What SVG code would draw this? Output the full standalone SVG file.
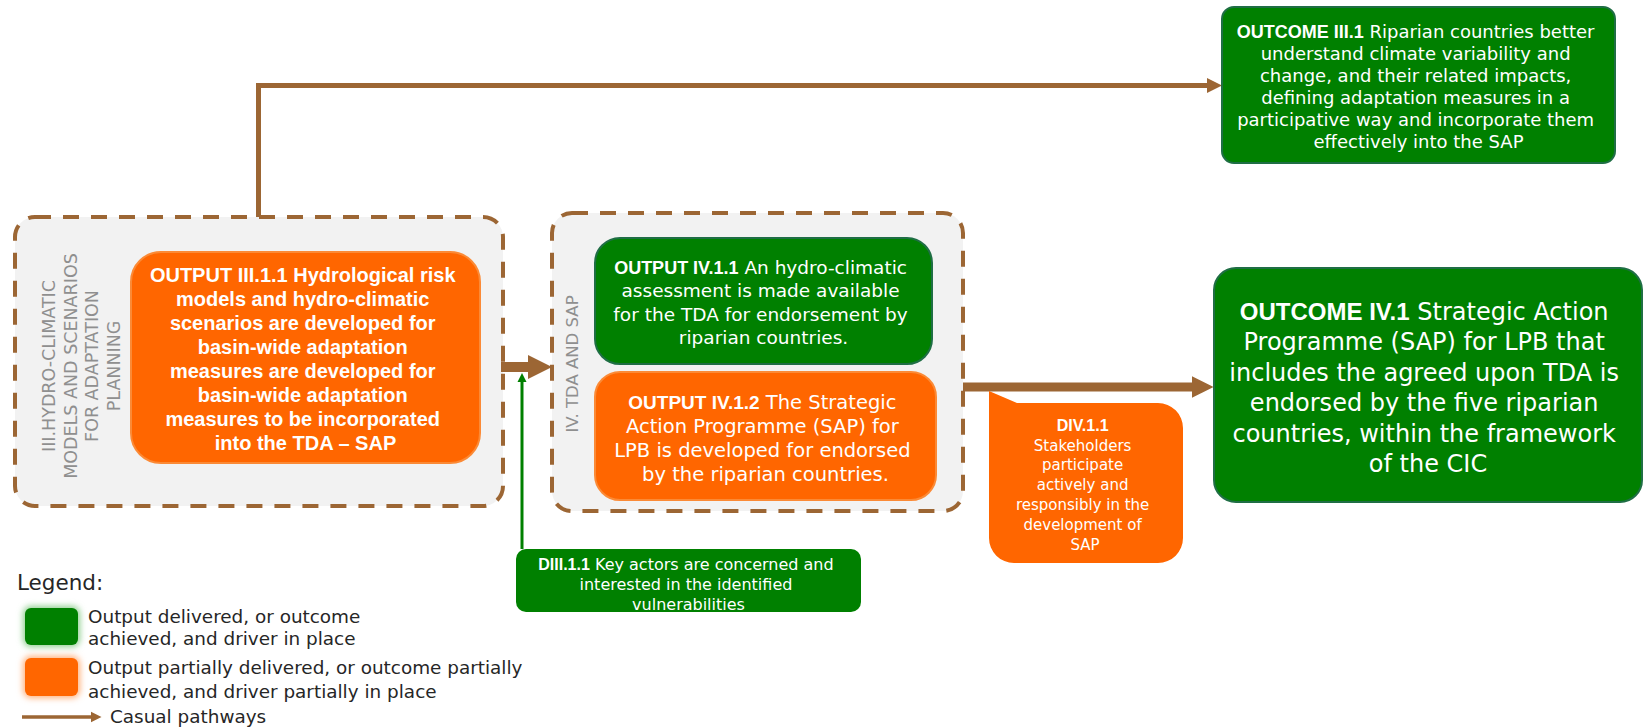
<svg xmlns="http://www.w3.org/2000/svg" width="1644" height="728" viewBox="0 0 1644 728">
  <defs>
    <style>
      .grp{fill:#f2f2f2;stroke:#9c6634;stroke-width:4;stroke-dasharray:16 12}
      .grn{fill:#008000;stroke:#1f6e45;stroke-width:2}
      .org{fill:#ff6600;stroke:#fb8a36;stroke-width:2}
      .flow{fill:none;stroke:#9c6634;stroke-linejoin:miter}
      .t{font-family:"DejaVu Sans",sans-serif;fill:#ffffff;text-anchor:middle}
      .b{font-family:"Liberation Sans",Arial,sans-serif;font-weight:bold}
      .lbl{font-family:"DejaVu Sans",sans-serif;fill:#8f8f8f;text-anchor:middle;font-size:17.5px}
      .leg{font-family:"DejaVu Sans",sans-serif;fill:#262626;font-size:18.4px}
    </style>
    <!-- arrowheads scale with the stroke width of the line they end -->
    <marker id="head-thin" viewBox="0 0 10 10" refX="0" refY="5" markerWidth="3" markerHeight="3.2" orient="auto" markerUnits="strokeWidth">
      <path d="M0,0 L10,5 L0,10 Z" fill="#9c6634"/>
    </marker>
    <marker id="head-thick" viewBox="0 0 10 10" refX="0" refY="5" markerWidth="2.4" markerHeight="2.6" orient="auto" markerUnits="strokeWidth">
      <path d="M0,0 L10,5 L0,10 Z" fill="#9c6634"/>
    </marker>
    <marker id="head-green" viewBox="0 0 10 10" refX="0" refY="5" markerWidth="3" markerHeight="3.7" orient="auto" markerUnits="strokeWidth">
      <path d="M0,0 L10,5 L0,10 Z" fill="#008000"/>
    </marker>
    <filter id="soft-glow" x="-40%" y="-40%" width="180%" height="180%">
      <feGaussianBlur stdDeviation="3"/>
    </filter>
  </defs>

  <!-- component containers -->
  <g id="group-iii">
    <rect class="grp" x="15" y="217" width="488" height="289" rx="20"/>
    <text class="lbl" transform="translate(55,366) rotate(-90)">III.HYDRO-CLIMATIC</text>
    <text class="lbl" transform="translate(76.5,366) rotate(-90)">MODELS AND SCENARIOS</text>
    <text class="lbl" transform="translate(98,366) rotate(-90)">FOR ADAPTATION</text>
    <text class="lbl" transform="translate(119.5,366) rotate(-90)">PLANNING</text>
  </g>
  <g id="group-iv">
    <rect class="grp" x="552" y="213" width="411" height="298" rx="20"/>
    <text class="lbl" style="font-size:16.5px" transform="translate(578,364) rotate(-90)">IV. TDA AND SAP</text>
  </g>

  <!-- causal pathways -->
  <g id="connectors">
    <path class="flow" d="M258.5,217 V85.5 H1207" stroke-width="5" marker-end="url(#head-thin)"/>
    <path class="flow" d="M501,367 H528" stroke-width="10" marker-end="url(#head-thick)"/>
    <path class="flow" d="M963,387 H1192" stroke-width="9" marker-end="url(#head-thick)"/>
    <path d="M522,549 V382" fill="none" stroke="#008000" stroke-width="3" marker-end="url(#head-green)"/>
  </g>

  <g id="output-iii-1-1">
    <rect class="org" x="131" y="252" width="349" height="211" rx="30"/>
    <text class="t b" font-size="20">
      <tspan x="305.5" y="282">OUTPUT III.1.1 Hydrological risk</tspan>
      <tspan x="305.5" y="306">models and hydro-climatic</tspan>
      <tspan x="305.5" y="330">scenarios are developed for</tspan>
      <tspan x="305.5" y="354">basin-wide adaptation</tspan>
      <tspan x="305.5" y="378">measures are developed for</tspan>
      <tspan x="305.5" y="402">basin-wide adaptation</tspan>
      <tspan x="305.5" y="426">measures to be incorporated</tspan>
      <tspan x="305.5" y="450">into the TDA – SAP</tspan>
    </text>
  </g>

  <g id="output-iv-1-1">
    <rect class="grn" x="595" y="238" width="337" height="126" rx="25"/>
    <text class="t" font-size="18.5">
      <tspan x="763.5" y="273.5"><tspan class="b" font-size="18">OUTPUT IV.1.1</tspan> An hydro-climatic</tspan>
      <tspan x="763.5" y="297">assessment is made available</tspan>
      <tspan x="763.5" y="320.5">for the TDA for endorsement by</tspan>
      <tspan x="763.5" y="344">riparian countries.</tspan>
    </text>
  </g>

  <g id="output-iv-1-2">
    <rect class="org" x="595" y="372" width="341" height="128" rx="25"/>
    <text class="t" font-size="19.5">
      <tspan x="765.5" y="409"><tspan class="b" font-size="19">OUTPUT IV.1.2</tspan> The Strategic</tspan>
      <tspan x="765.5" y="433">Action Programme (SAP) for</tspan>
      <tspan x="765.5" y="457">LPB is developed for endorsed</tspan>
      <tspan x="765.5" y="481">by the riparian countries.</tspan>
    </text>
  </g>

  <g id="outcome-iii-1">
    <rect class="grn" x="1222" y="7" width="393" height="156" rx="12"/>
    <text class="t" font-size="18">
      <tspan x="1418.5" y="37.5"><tspan class="b">OUTCOME III.1</tspan> Riparian countries better</tspan>
      <tspan x="1418.5" y="59.5">understand climate variability and</tspan>
      <tspan x="1418.5" y="81.5">change, and their related impacts,</tspan>
      <tspan x="1418.5" y="103.5">defining adaptation measures in a</tspan>
      <tspan x="1418.5" y="125.5">participative way and incorporate them</tspan>
      <tspan x="1418.5" y="147.5">effectively  into the SAP</tspan>
    </text>
  </g>

  <g id="outcome-iv-1">
    <rect class="grn" x="1214" y="268" width="428" height="234" rx="22"/>
    <text class="t" font-size="24">
      <tspan x="1428" y="319.5"><tspan class="b">OUTCOME IV.1</tspan> Strategic Action</tspan>
      <tspan x="1428" y="350">Programme (SAP) for LPB that</tspan>
      <tspan x="1428" y="380.5">includes the agreed upon TDA is</tspan>
      <tspan x="1428" y="411">endorsed by the five riparian</tspan>
      <tspan x="1428" y="441.5">countries, within the framework</tspan>
      <tspan x="1428" y="472">of the CIC</tspan>
    </text>
  </g>

  <g id="driver-iv-1-1">
    <path d="M989,391 L1017,403 H1158 A25,25 0 0 1 1183,428 V538 A25,25 0 0 1 1158,563 H1014 A25,25 0 0 1 989,538 Z" fill="#ff6600"/>
    <text class="t" font-size="15">
      <tspan class="b" x="1085" y="431" font-size="16">DIV.1.1</tspan>
      <tspan x="1085" y="450.5">Stakeholders</tspan>
      <tspan x="1085" y="470">participate</tspan>
      <tspan x="1085" y="490">actively and</tspan>
      <tspan x="1085" y="510">responsibly in the</tspan>
      <tspan x="1085" y="530">development of</tspan>
      <tspan x="1085" y="549.5">SAP</tspan>
    </text>
  </g>

  <g id="driver-iii-1-1">
    <rect x="516" y="549" width="345" height="63" rx="10" fill="#008000"/>
    <text class="t" font-size="16">
      <tspan x="688.5" y="570"><tspan class="b">DIII.1.1</tspan> Key actors are concerned and</tspan>
      <tspan x="688.5" y="590">interested in the identified</tspan>
      <tspan x="688.5" y="609.5">vulnerabilities</tspan>
    </text>
  </g>

  <g id="legend">
    <text class="leg" x="17" y="589.5" style="font-size:21.5px">Legend:</text>
    <rect x="23" y="606" width="57" height="41" rx="8" fill="#8fcf8f" filter="url(#soft-glow)"/>
    <rect x="25" y="608" width="53" height="37" rx="6" fill="#008000"/>
    <rect x="23" y="656" width="57" height="42" rx="8" fill="#ffb07a" filter="url(#soft-glow)"/>
    <rect x="25" y="658" width="53" height="38" rx="6" fill="#ff6600"/>
    <text class="leg">
      <tspan x="88" y="623">Output delivered, or outcome</tspan>
      <tspan x="88" y="645">achieved, and driver in place</tspan>
    </text>
    <text class="leg">
      <tspan x="88" y="674">Output partially delivered, or outcome partially</tspan>
      <tspan x="88" y="698">achieved, and driver partially in place</tspan>
    </text>
    <path class="flow" d="M22,717 H91" stroke-width="3.5" marker-end="url(#head-thin)"/>
    <text class="leg" x="110" y="723">Casual pathways</text>
  </g>
</svg>
